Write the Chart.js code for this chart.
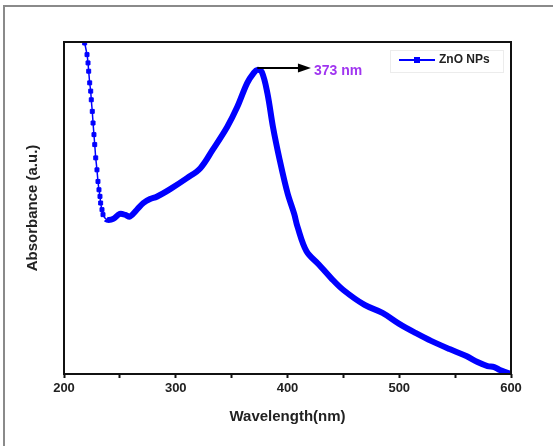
<!DOCTYPE html>
<html>
<head>
<meta charset="utf-8">
<script src="https://cdn.jsdelivr.net/npm/chart.js@4.4.1/dist/chart.umd.min.js"></script>
<style>
  html, body { margin: 0; padding: 0; background: #fff; }
</style>
</head>
<body>
<canvas id="chart" width="553" height="446"></canvas>
<script>
// UV-vis spectrum of ZnO NPs (absorbance in a.u., 0-100)
const wavelengths = [
  218.5, 220.6, 221.5, 222.1, 223.0, 223.9, 224.4, 225.3, 226.0, 226.8,
  227.5, 228.4, 229.5, 230.4, 231.3, 232.2, 232.8, 234.0, 234.9, 237.5,
  240, 244, 250, 255, 259, 265, 271, 277, 283, 295,
  310, 322, 333, 346, 355, 364, 370, 373, 377, 382,
  387, 393, 400, 406, 409, 417, 428, 439, 450, 469,
  485, 500, 515, 529, 545, 560, 570, 579, 585, 590,
  595, 600
];
const absorbance = [
  99.7, 96.2, 93.7, 91.2, 87.7, 85.2, 82.6, 79.1, 75.6, 72.1,
  69.1, 65.1, 61.5, 58.0, 55.5, 53.5, 51.5, 49.5, 48.0, 46.7,
  46.4, 46.7, 48.2, 47.9, 47.4, 49.4, 51.5, 52.7, 53.4, 55.7,
  59.0, 62.0, 67.5, 74.4, 80.4, 87.7, 90.8, 91.6, 91.0, 84.6,
  74.4, 64.5, 54.5, 48.2, 44.3, 37.0, 33.0, 28.9, 25.3, 20.8,
  18.4, 15.1, 12.3, 9.9, 7.5, 5.4, 3.6, 2.4, 2.1, 1.2,
  0.6, 0
];
const xTicks = [200, 300, 400, 500, 600];
const seriesName = "ZnO NPs";
const peakWavelength = 373;
const peakLabel = "373 nm";
const arrowEnd = 421;      // where the arrow to the label stops (nm)
const steepEnd = 235;      // markers are seen apart only on the steep UV edge

const FONT = "'Liberation Sans', Arial, sans-serif";
const BLUE = "#0000ff";

// grey page frame seen at the top and left of the picture
const pageFrame = {
  id: "pageFrame",
  beforeDraw(chart) {
    const ctx = chart.ctx;
    ctx.save();
    ctx.strokeStyle = "#8a8a8a";
    ctx.lineWidth = 2;
    ctx.beginPath();
    ctx.moveTo(4, 446);
    ctx.lineTo(4, 6);
    ctx.lineTo(553, 6);
    ctx.stroke();
    ctx.restore();
  },
};

// black box around the plot area
const plotBox = {
  id: "plotBox",
  afterDraw(chart) {
    const { ctx, chartArea: a } = chart;
    ctx.save();
    ctx.strokeStyle = "#111";
    ctx.lineWidth = 2;
    ctx.strokeRect(a.left, a.top, a.right - a.left, a.bottom - a.top);
    ctx.restore();
  },
};

// arrow from the peak to the "373 nm" label
const peakArrow = {
  id: "peakArrow",
  afterDatasetsDraw(chart) {
    const { ctx, scales } = chart;
    const i = wavelengths.indexOf(peakWavelength);
    const x0 = scales.x.getPixelForValue(peakWavelength);
    const y0 = scales.y.getPixelForValue(absorbance[i]) - 2;
    const x1 = scales.x.getPixelForValue(arrowEnd);
    ctx.save();
    ctx.strokeStyle = "#000";
    ctx.fillStyle = "#000";
    ctx.lineWidth = 2;
    ctx.beginPath();
    ctx.moveTo(x0, y0);
    ctx.lineTo(x1 - 10, y0);
    ctx.stroke();
    ctx.beginPath();
    ctx.moveTo(x1, y0);
    ctx.lineTo(x1 - 13, y0 - 4.5);
    ctx.lineTo(x1 - 13, y0 + 4.5);
    ctx.closePath();
    ctx.fill();
    ctx.font = "bold 14px " + FONT;
    ctx.fillStyle = "#a035f0";
    ctx.textBaseline = "middle";
    ctx.fillText(peakLabel, x1 + 3, y0 + 3);
    ctx.restore();
  },
};

// legend in the top-right corner: line with a square marker
const legendBox = {
  id: "legendBox",
  afterDraw(chart) {
    const ctx = chart.ctx;
    ctx.save();
    ctx.strokeStyle = "#ececec";
    ctx.lineWidth = 1;
    ctx.strokeRect(390.5, 50.5, 113, 22);
    ctx.strokeStyle = BLUE;
    ctx.lineWidth = 2;
    ctx.beginPath();
    ctx.moveTo(399, 60);
    ctx.lineTo(435, 60);
    ctx.stroke();
    ctx.fillStyle = BLUE;
    ctx.fillRect(414, 57, 6, 6);
    ctx.font = "bold 12px " + FONT;
    ctx.fillStyle = "#222";
    ctx.textBaseline = "middle";
    ctx.fillText(seriesName, 439, 60);
    ctx.restore();
  },
};

new Chart(document.getElementById("chart"), {
  type: "line",
  data: {
    datasets: [
      {
        label: seriesName,
        data: wavelengths.map((w, i) => ({ x: w, y: absorbance[i] })),
        borderColor: BLUE,
        backgroundColor: BLUE,
        pointStyle: "rect",
        pointRadius: (c) => (c.parsed && c.parsed.x < steepEnd ? 2.8 : 0),
        pointBorderWidth: 1,
        tension: 0.35,
        segment: {
          borderWidth: (c) => (c.p0.parsed.x < steepEnd ? 1.5 : 6),
        },
        borderWidth: 6,
      },
    ],
  },
  options: {
    responsive: false,
    animation: false,
    layout: { padding: { top: 42, right: 42, left: 0, bottom: 0 } },
    plugins: {
      legend: { display: false },
      tooltip: { enabled: false },
    },
    scales: {
      x: {
        type: "linear",
        min: 200,
        max: 600,
        afterBuildTicks: (s) => {
          s.ticks = [];
          for (let v = xTicks[0]; v <= xTicks[xTicks.length - 1]; v += 50) s.ticks.push({ value: v });
        },
        afterFit: (s) => { s.height = 72; },
        border: { display: false },
        grid: {
          drawOnChartArea: false,
          drawTicks: true,
          tickLength: 4,
          tickWidth: 2,
          tickColor: "#111",
        },
        ticks: {
          callback: (v) => (xTicks.includes(v) ? v : ""),
          font: { family: FONT, size: 13, weight: "bold" },
          color: "#222",
          padding: 3,
          maxRotation: 0,
          autoSkip: false,
        },
        title: {
          display: true,
          text: "Wavelength(nm)",
          font: { family: FONT, size: 15, weight: "bold" },
          color: "#222",
          padding: { top: 0, bottom: 20 },
        },
      },
      y: {
        min: 0,
        max: 100,
        afterFit: (s) => { s.width = 64; },
        border: { display: false },
        grid: { display: false },
        ticks: { display: false },
        title: {
          display: true,
          text: "Absorbance (a.u.)",
          font: { family: FONT, size: 15, weight: "bold" },
          color: "#222",
          padding: { top: 24, bottom: 0 },
        },
      },
    },
  },
  plugins: [pageFrame, plotBox, peakArrow, legendBox],
});
</script>
</body>
</html>
